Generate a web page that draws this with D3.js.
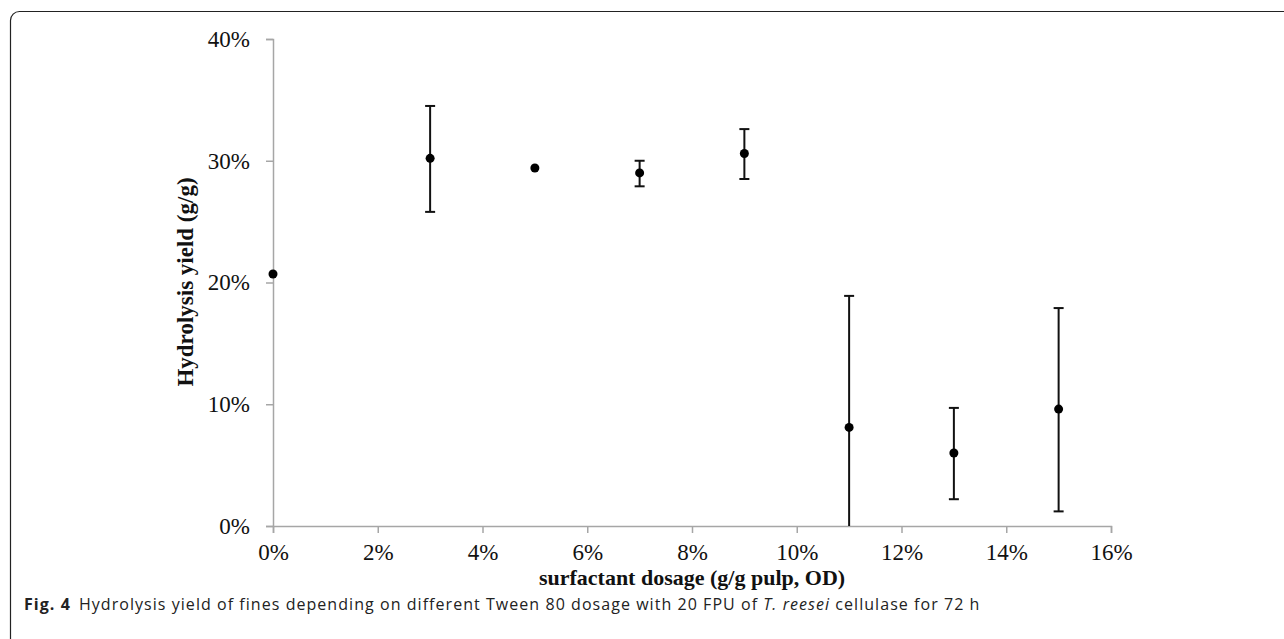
<!DOCTYPE html>
<html>
<head>
<meta charset="utf-8">
<script src="https://cdn.jsdelivr.net/npm/d3@7"></script>
<style>
  body { margin: 0; background: #fff; }
  svg { display: block; }
</style>
</head>
<body>
<svg id="chart" width="1284" height="639"></svg>
<script>
// surfactant dosage (fraction) and hydrolysis yield with error bar ends
var dosage = [0, 0.03, 0.05, 0.07, 0.09, 0.11, 0.13, 0.15];
var yieldMean = [0.207, 0.302, 0.294, 0.290, 0.306, 0.081, 0.060, 0.096];
var errLow = [0.206, 0.258, 0.293, 0.279, 0.285, -0.027, 0.022, 0.012];
var errHigh = [0.208, 0.345, 0.295, 0.300, 0.326, 0.189, 0.097, 0.179];
var xTicks = [0, 0.02, 0.04, 0.06, 0.08, 0.10, 0.12, 0.14, 0.16];
var yTicks = [0, 0.1, 0.2, 0.3, 0.4];

var data = dosage.map(function(d, i) {
  return {x: d, y: yieldMean[i], lo: errLow[i], hi: errHigh[i]};
});

var svg = d3.select("#chart");
var serif = "'Liberation Serif', 'Times New Roman', serif";

// rounded figure frame (runs off the right and bottom)
svg.append("rect")
    .attr("x", 10.5).attr("y", 11.5)
    .attr("width", 1300).attr("height", 640)
    .attr("rx", 9)
    .attr("fill", "none")
    .attr("stroke", "#222")
    .attr("stroke-width", 1.2);

var x = d3.scaleLinear().domain([0, 0.16]).range([273, 1111]);
var y = d3.scaleLinear().domain([0, 0.4]).range([526, 39]);

var fmt = function(d) { return Math.round(d * 100) + "%"; };

var xAxis = svg.append("g")
    .attr("transform", "translate(0,526)")
    .call(d3.axisBottom(x).tickValues(xTicks).tickFormat(fmt).tickSizeOuter(0).tickSize(7).tickPadding(11));
var yAxis = svg.append("g")
    .attr("transform", "translate(273,0)")
    .call(d3.axisLeft(y).tickValues(yTicks).tickFormat(fmt).tickSizeOuter(0).tickSize(7).tickPadding(16));

[xAxis, yAxis].forEach(function(a) {
  a.select(".domain").attr("stroke", "#a6a6a6").attr("stroke-width", 1.5);
  a.selectAll(".tick line").attr("stroke", "#a6a6a6").attr("stroke-width", 1.5);
  a.selectAll(".tick text")
    .attr("fill", "#111")
    .style("font-family", serif)
    .style("font-size", "23px");
});

// error bars (clipped at the x axis)
var clipY = function(v) { return y(Math.max(0, v)); };
var bars = svg.append("g").attr("stroke", "#111").attr("stroke-width", 2);
bars.selectAll(".stem")
    .data(data)
  .enter().append("line")
    .attr("x1", function(d) { return x(d.x); })
    .attr("x2", function(d) { return x(d.x); })
    .attr("y1", function(d) { return clipY(d.lo); })
    .attr("y2", function(d) { return y(d.hi); });
bars.selectAll(".capHi")
    .data(data.filter(function(d) { return d.hi - d.lo > 0.005; }))
  .enter().append("line")
    .attr("x1", function(d) { return x(d.x) - 5; })
    .attr("x2", function(d) { return x(d.x) + 5; })
    .attr("y1", function(d) { return y(d.hi); })
    .attr("y2", function(d) { return y(d.hi); });
bars.selectAll(".capLo")
    .data(data.filter(function(d) { return d.hi - d.lo > 0.005 && d.lo > 0; }))
  .enter().append("line")
    .attr("x1", function(d) { return x(d.x) - 5; })
    .attr("x2", function(d) { return x(d.x) + 5; })
    .attr("y1", function(d) { return y(d.lo); })
    .attr("y2", function(d) { return y(d.lo); });

svg.selectAll(".dot")
    .data(data)
  .enter().append("circle")
    .attr("class", "dot")
    .attr("cx", function(d) { return x(d.x); })
    .attr("cy", function(d) { return y(d.y); })
    .attr("r", 4.5)
    .attr("fill", "#000");

// axis titles
svg.append("text")
    .attr("x", 692).attr("y", 585)
    .attr("text-anchor", "middle")
    .style("font-family", serif)
    .style("font-size", "22px").style("font-weight", "bold")
    .attr("fill", "#111")
    .text("surfactant dosage (g/g pulp, OD)");

svg.append("text")
    .attr("transform", "translate(193,282) rotate(-90)")
    .attr("text-anchor", "middle")
    .style("font-family", serif)
    .style("font-size", "23px").style("font-weight", "bold")
    .attr("fill", "#111")
    .text("Hydrolysis yield (g/g)");

// caption
var cap = svg.append("text")
    .attr("x", 24).attr("y", 610)
    .style("font-family", "'Open Sans', 'Noto Sans', sans-serif")
    .style("font-size", "16px")
    .style("letter-spacing", "1.05px")
    .attr("fill", "#222");
cap.append("tspan").style("font-weight", "bold").text("Fig. 4");
cap.append("tspan").attr("dx", 8).text("Hydrolysis yield of fines depending on different Tween 80 dosage with 20 FPU of ");
cap.append("tspan").style("font-style", "italic").text("T. reesei");
cap.append("tspan").text(" cellulase for 72 h");
</script>
</body>
</html>
